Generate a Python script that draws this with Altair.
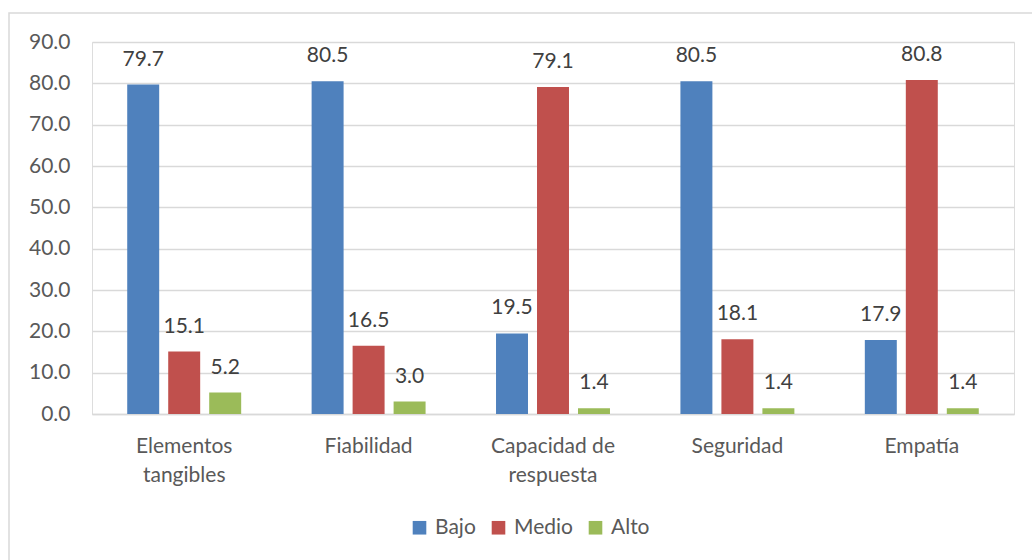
import altair as alt
import pandas as pd

categories = ["Elementos tangibles", "Fiabilidad", "Capacidad de respuesta", "Seguridad", "Empatía"]
series = ["Bajo", "Medio", "Alto"]
bajo = [79.7, 80.5, 19.5, 80.5, 17.9]
medio = [15.1, 16.5, 79.1, 18.1, 80.8]
alto = [5.2, 3.0, 1.4, 1.4, 1.4]
colors = ["#4F81BD", "#C0504D", "#9BBB59"]
y_ticks = [0, 10, 20, 30, 40, 50, 60, 70, 80, 90]

rows = []
for i, c in enumerate(categories):
    for s, vals in zip(series, [bajo, medio, alto]):
        rows.append({"cat": c, "serie": s, "valor": vals[i]})
df = pd.DataFrame(rows)

FONT = "Lato"
FS = 21
x_enc = alt.X(
    "cat:N",
    sort=categories,
    title=None,
    scale=alt.Scale(paddingInner=0.382, paddingOuter=0.191),
    axis=alt.Axis(
        labelAngle=0,
        ticks=False,
        domain=True,
        domainColor="#d9d9d9",
        domainWidth=1.5,
        labelFontSize=FS,
        labelColor="#595959",
        labelFont=FONT,
        labelPadding=21,
        labelLineHeight=29,
        labelExpr="datum.label == 'Elementos tangibles' ? ['Elementos', 'tangibles'] : datum.label == 'Capacidad de respuesta' ? ['Capacidad de', 'respuesta'] : datum.label",
    ),
)
xoff = alt.XOffset("serie:N", sort=series, scale=alt.Scale(paddingInner=0.22, paddingOuter=0))
y_enc = alt.Y(
    "valor:Q",
    title=None,
    scale=alt.Scale(domain=[0, 90], nice=False),
    axis=alt.Axis(
        values=y_ticks,
        format=".1f",
        domain=False,
        ticks=False,
        labelFontSize=FS,
        labelColor="#595959",
        labelFont=FONT,
        labelPadding=22,
        gridColor="#d9d9d9",
        gridWidth=1.5,
    ),
)

base = alt.Chart(df)
bars = base.mark_bar().encode(
    x=x_enc,
    xOffset=xoff,
    y=y_enc,
    color=alt.Color(
        "serie:N",
        sort=series,
        scale=alt.Scale(domain=series, range=colors),
        legend=alt.Legend(
            title=None,
            orient="none",
            direction="horizontal",
            legendX=317,
            legendY=475,
            symbolType="square",
            symbolSize=185,
            symbolStrokeWidth=0,
            labelFontSize=FS,
            labelColor="#595959",
            labelFont=FONT,
            columnPadding=12,
            labelOffset=5,
        ),
    ),
)
labels = base.mark_text(
    fontSize=FS, color="#404040", font=FONT, baseline="middle", dy=-25
).encode(
    x=alt.X("cat:N", sort=categories),
    xOffset=alt.XOffset("serie:N", sort=series),
    y="valor:Q",
    text=alt.Text("valor:Q", format=".1f"),
)

border = alt.Chart(pd.DataFrame({"a": [0]})).mark_rect(
    fill=None, stroke="#d9d9d9", strokeWidth=1.5
).encode(
    x=alt.value(-83), x2=alt.value(1040), y=alt.value(-29), y2=alt.value(600)
)

chart = alt.layer(border, bars, labels).properties(
    width=922,
    height=372,
    padding={"left": 92, "top": 42, "right": 18, "bottom": 146},
    autosize=alt.AutoSizeParams(type="none"),
).configure_view(stroke=None).configure(background="white")

chart.save("out.html", embed_options={"renderer": "svg", "actions": False})
